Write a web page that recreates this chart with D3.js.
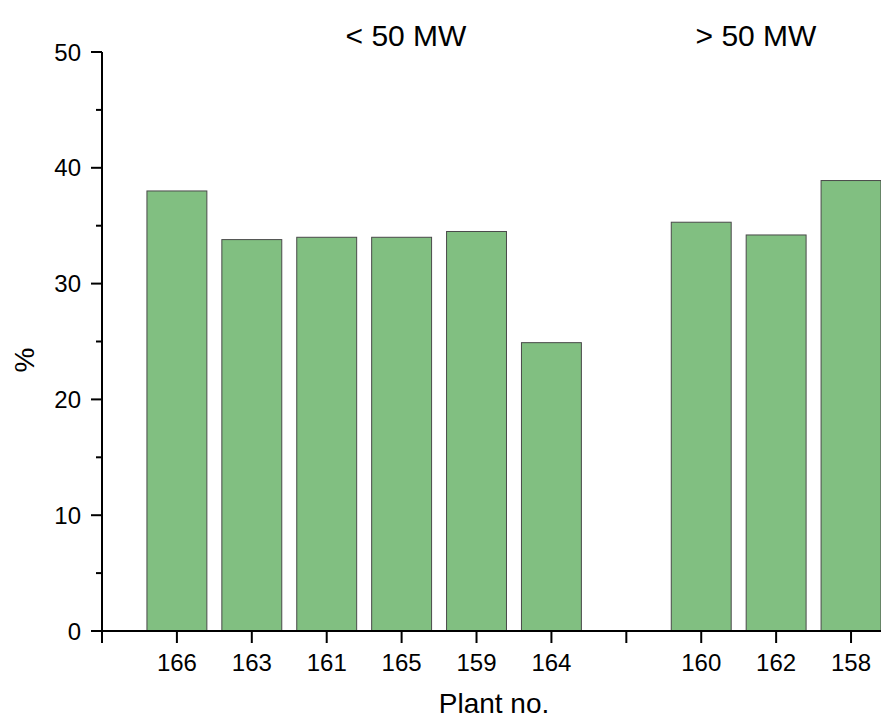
<!DOCTYPE html>
<html><head><meta charset="utf-8">
<script src="https://cdn.jsdelivr.net/npm/d3@7"></script>
<style>body{margin:0;background:#fff}svg{display:block}text{font-family:"Liberation Sans",Arial,sans-serif;fill:#000}</style>
</head><body>
<script>
const plants = ["166","163","161","165","159","164","160","162","158"];
const positions = [1,2,3,4,5,6,8,9,10];
const values = [38.0,33.8,34.0,34.0,34.5,24.9,35.3,34.2,38.9];
const groupLabels = ["< 50 MW","> 50 MW"];
const yTicks = [0,10,20,30,40,50];

const W=881,H=720;
const svg=d3.select("body").append("svg").attr("width",W).attr("height",H);
const x=d3.scaleLinear().domain([0,10.4]).range([102,881]);
const y=d3.scaleLinear().domain([0,50]).range([631,52]);
const step=x(1)-x(0), bw=step*0.8;

svg.selectAll("rect.bar").data(values).join("rect").attr("class","bar")
  .attr("x",(d,i)=>x(positions[i])-bw/2).attr("width",bw)
  .attr("y",d=>y(d)).attr("height",d=>y(0)-y(d))
  .attr("fill","#81bf81").attr("stroke","#4a4a4a").attr("stroke-width",1);

// y axis
const ya=svg.append("g");
ya.append("line").attr("x1",102).attr("x2",102).attr("y1",y(50)).attr("y2",y(0)+1).attr("stroke","#000").attr("stroke-width",2);
ya.selectAll("line.maj").data(yTicks).join("line").attr("class","maj")
  .attr("x1",91).attr("x2",102).attr("y1",d=>y(d)).attr("y2",d=>y(d)).attr("stroke","#000").attr("stroke-width",2);
ya.selectAll("line.min").data(d3.range(5,50,10)).join("line").attr("class","min")
  .attr("x1",96).attr("x2",102).attr("y1",d=>y(d)).attr("y2",d=>y(d)).attr("stroke","#000").attr("stroke-width",2);
ya.selectAll("text").data(yTicks).join("text")
  .attr("x",81).attr("y",d=>y(d)).attr("dy","0.36em").attr("text-anchor","end")
  .attr("font-size",24).text(d=>d);

// x axis
const xa=svg.append("g");
xa.append("line").attr("x1",101).attr("x2",881).attr("y1",y(0)).attr("y2",y(0)).attr("stroke","#000").attr("stroke-width",2);
xa.selectAll("line.t").data(d3.range(0,11)).join("line").attr("class","t")
  .attr("x1",d=>x(d)).attr("x2",d=>x(d)).attr("y1",y(0)).attr("y2",y(0)+12).attr("stroke","#000").attr("stroke-width",2);
xa.selectAll("text").data(plants).join("text")
  .attr("x",(d,i)=>x(positions[i])).attr("y",671).attr("text-anchor","middle")
  .attr("font-size",24).text(d=>d);

svg.append("text").attr("x",494).attr("y",713).attr("text-anchor","middle").attr("font-size",28).text("Plant no.");
svg.append("text").attr("transform","translate(34,360) rotate(-90)").attr("text-anchor","middle").attr("font-size",28).text("%");

svg.selectAll("text.grp").data(groupLabels).join("text").attr("class","grp")
  .attr("x",(d,i)=>[406,756][i]).attr("y",46).attr("text-anchor","middle").attr("font-size",30).text(d=>d);
</script>
</body></html>
